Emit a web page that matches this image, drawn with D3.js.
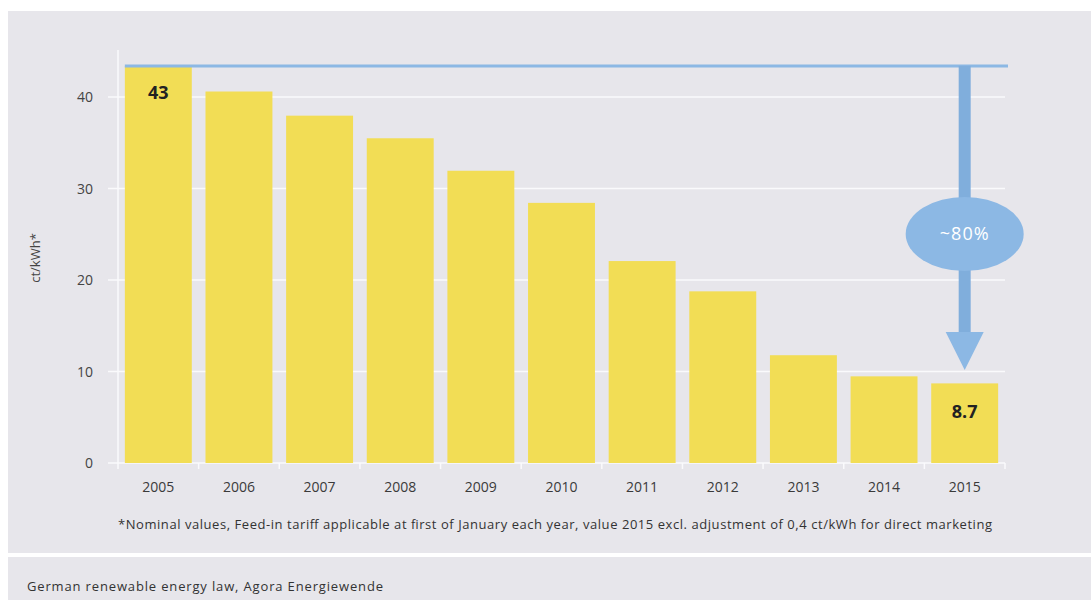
<!DOCTYPE html>
<html>
<head>
<meta charset="utf-8">
<script src="https://cdn.jsdelivr.net/npm/d3@7"></script>
<style>
  body { margin: 0; background: #fff; }
  text { font-family: "Open Sans", "DejaVu Sans", sans-serif; }
</style>
</head>
<body>
<script>
// chart data
var years = ["2005", "2006", "2007", "2008", "2009", "2010", "2011", "2012", "2013", "2014", "2015"];
var tariff = [43.4, 40.6, 37.96, 35.49, 31.94, 28.43, 22.07, 18.76, 11.78, 9.47, 8.7];
var yTicks = [0, 10, 20, 30, 40];
var labelled = [{ year: "2005", text: "43" }, { year: "2015", text: "8.7" }];
var reduction = "~80%";
var footnote = "*Nominal values, Feed-in tariff applicable at first of January each year, value 2015 excl. adjustment of 0,4 ct/kWh for direct marketing";
var source = "German renewable energy law, Agora Energiewende";

var W = 1091, H = 600;

var svg = d3.select("body")
	.append("svg")
		.attr("width", W)
		.attr("height", H);

// background panels
svg.append("rect").attr("x", 8).attr("y", 11).attr("width", W - 8).attr("height", 542).attr("fill", "#e7e6eb");
svg.append("rect").attr("x", 8).attr("y", 557).attr("width", W - 8).attr("height", 50).attr("fill", "#e7e6eb");

var x = d3.scaleBand().domain(years).range([118, 1005]).paddingInner(0.17).paddingOuter(0.085);
var y = d3.scaleLinear().domain([0, 40]).range([463, 97]);

// gridlines
svg.selectAll(".grid")
	.data(yTicks)
	.enter()
	.append("line")
		.attr("x1", 108).attr("x2", 1005)
		.attr("y1", function (d) { return y(d); })
		.attr("y2", function (d) { return y(d); })
		.style("stroke", "#fafafc")
		.style("stroke-width", 1.5);

// y axis line
svg.append("line").attr("x1", 118).attr("x2", 118).attr("y1", 50).attr("y2", 463)
	.style("stroke", "#fafafc").style("stroke-width", 1.5);

// x ticks between bars
var step = x.step();
svg.selectAll(".xtick")
	.data(d3.range(years.length + 1))
	.enter()
	.append("line")
		.attr("x1", function (i) { return 118 + i * step; })
		.attr("x2", function (i) { return 118 + i * step; })
		.attr("y1", 463).attr("y2", 469)
		.style("stroke", "#fafafc").style("stroke-width", 1.5);

// bars
svg.selectAll(".bar")
	.data(years)
	.enter()
	.append("rect")
		.attr("x", function (d) { return x(d); })
		.attr("width", x.bandwidth())
		.attr("y", function (d, i) { return y(tariff[i]); })
		.attr("height", function (d, i) { return y(0) - y(tariff[i]); })
		.style("fill", "#f2dd55");

// y tick labels
svg.selectAll(".ylab")
	.data(yTicks)
	.enter()
	.append("text")
		.attr("x", 93)
		.attr("y", function (d) { return y(d) + 5; })
		.attr("text-anchor", "end")
		.style("font-size", "14px")
		.style("fill", "#444")
		.text(function (d) { return d; });

// x tick labels
svg.selectAll(".xlab")
	.data(years)
	.enter()
	.append("text")
		.attr("x", function (d) { return x(d) + x.bandwidth() / 2; })
		.attr("y", 492)
		.attr("text-anchor", "middle")
		.style("font-size", "14px")
		.style("fill", "#3a3a3a")
		.text(function (d) { return d; });

// y axis title
svg.append("text")
	.attr("transform", "translate(40,258) rotate(-90)")
	.attr("text-anchor", "middle")
	.style("font-size", "13px")
	.style("fill", "#444")
	.text("ct/kWh*");

// reduction marker
var topY = y(tariff[0]);
var cx = x("2015") + x.bandwidth() / 2;
var blue = "#8cb8e4";
svg.append("line").attr("x1", x("2005")).attr("x2", 1008).attr("y1", topY).attr("y2", topY)
	.style("stroke", blue).style("stroke-width", 3);
svg.append("rect").attr("x", cx - 6).attr("y", topY).attr("width", 12).attr("height", 335 - topY)
	.style("fill", "#80aedc");
svg.append("path")
	.attr("d", "M" + (cx - 19) + ",332 L" + (cx + 19) + ",332 L" + cx + ",370 Z")
	.style("fill", blue);
svg.append("ellipse").attr("cx", cx).attr("cy", 234).attr("rx", 59).attr("ry", 37)
	.style("fill", blue);
svg.append("text")
	.attr("x", cx).attr("y", 240)
	.attr("text-anchor", "middle")
	.style("font-size", "18px")
	.style("letter-spacing", "1px")
	.style("fill", "#fff")
	.text(reduction);

// value labels
svg.selectAll(".vlab")
	.data(labelled)
	.enter()
	.append("text")
		.attr("x", function (d) { return x(d.year) + x.bandwidth() / 2; })
		.attr("y", function (d) { return d.year == "2005" ? 99 : 418; })
		.attr("text-anchor", "middle")
		.style("font-size", "18px")
		.style("font-weight", "bold")
		.style("fill", "#222")
		.text(function (d) { return d.text; });

// footnote and source
svg.append("text")
	.attr("x", 118).attr("y", 529)
	.attr("textLength", 874)
	.attr("lengthAdjust", "spacing")
	.style("font-size", "13px")
	.style("fill", "#333")
	.text(footnote);

svg.append("text")
	.attr("x", 27).attr("y", 591)
	.attr("textLength", 356)
	.attr("lengthAdjust", "spacing")
	.style("font-size", "13px")
	.style("fill", "#333")
	.text(source);
</script>
</body>
</html>
